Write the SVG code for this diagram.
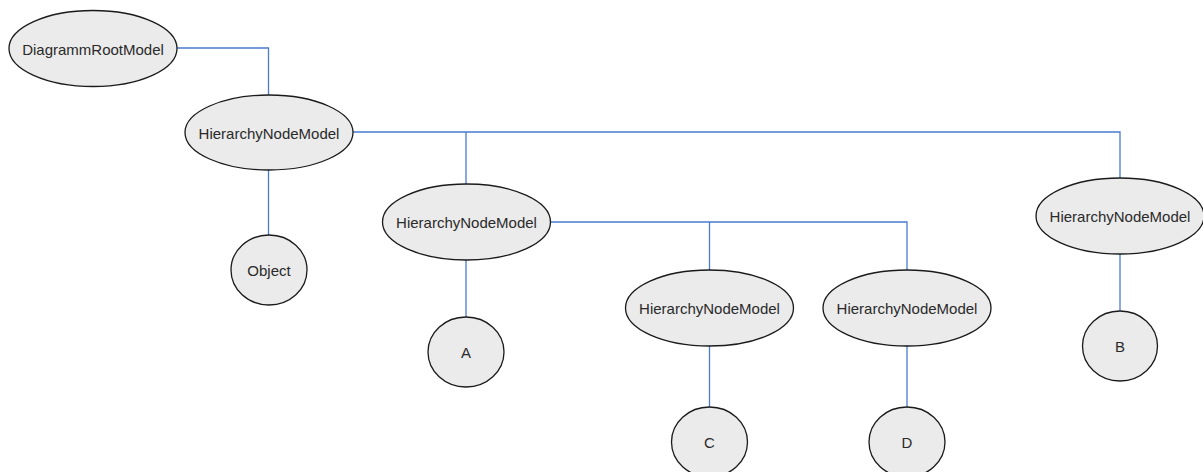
<svg xmlns="http://www.w3.org/2000/svg" width="1203" height="472" viewBox="0 0 1203 472">
<style>
.n ellipse{fill:#ebebeb;stroke:#1a1a1a;stroke-width:1.3}
.n text{font-family:"Liberation Sans",Arial,sans-serif;font-size:15px;fill:#2a2a2a;text-anchor:middle;dominant-baseline:central}
#connectors path{fill:none;stroke:#4a7bd0;stroke-width:1.3}
</style>
<rect width="1203" height="472" fill="#ffffff"/>
<g id="connectors">
<path d="M177 48 H268.5 V95"/>
<path d="M268.5 170 V235"/>
<path d="M353 132 H1120 V178"/>
<path d="M466 132 V184"/>
<path d="M466 260 V317"/>
<path d="M550 222 H907 V270"/>
<path d="M709.5 222 V270"/>
<path d="M709.5 346 V407"/>
<path d="M907 346 V407"/>
<path d="M1120 254 V311"/>
</g>
<g id="root" class="n"><ellipse cx="93" cy="48.5" rx="84" ry="38"/><text x="93" y="49">DiagrammRootModel</text></g>
<g id="h1" class="n"><ellipse cx="269" cy="132.5" rx="84" ry="37.5"/><text x="269" y="133">HierarchyNodeModel</text></g>
<g id="object" class="n"><ellipse cx="269" cy="270" rx="38" ry="35"/><text x="269" y="270">Object</text></g>
<g id="h2" class="n"><ellipse cx="466.5" cy="222" rx="84" ry="38"/><text x="466.5" y="222">HierarchyNodeModel</text></g>
<g id="a" class="n"><ellipse cx="466" cy="352" rx="38" ry="35"/><text x="466" y="352">A</text></g>
<g id="h3" class="n"><ellipse cx="709.5" cy="308" rx="84" ry="38"/><text x="709.5" y="308">HierarchyNodeModel</text></g>
<g id="c" class="n"><ellipse cx="709.5" cy="442" rx="38" ry="35"/><text x="709.5" y="442">C</text></g>
<g id="h5" class="n"><ellipse cx="907" cy="308" rx="84" ry="38"/><text x="907" y="308">HierarchyNodeModel</text></g>
<g id="d" class="n"><ellipse cx="907" cy="442" rx="38" ry="35"/><text x="907" y="442">D</text></g>
<g id="h4" class="n"><ellipse cx="1120" cy="216" rx="84" ry="38"/><text x="1120" y="216">HierarchyNodeModel</text></g>
<g id="b" class="n"><ellipse cx="1120" cy="346" rx="37.5" ry="35"/><text x="1120" y="346">B</text></g>
</svg>
